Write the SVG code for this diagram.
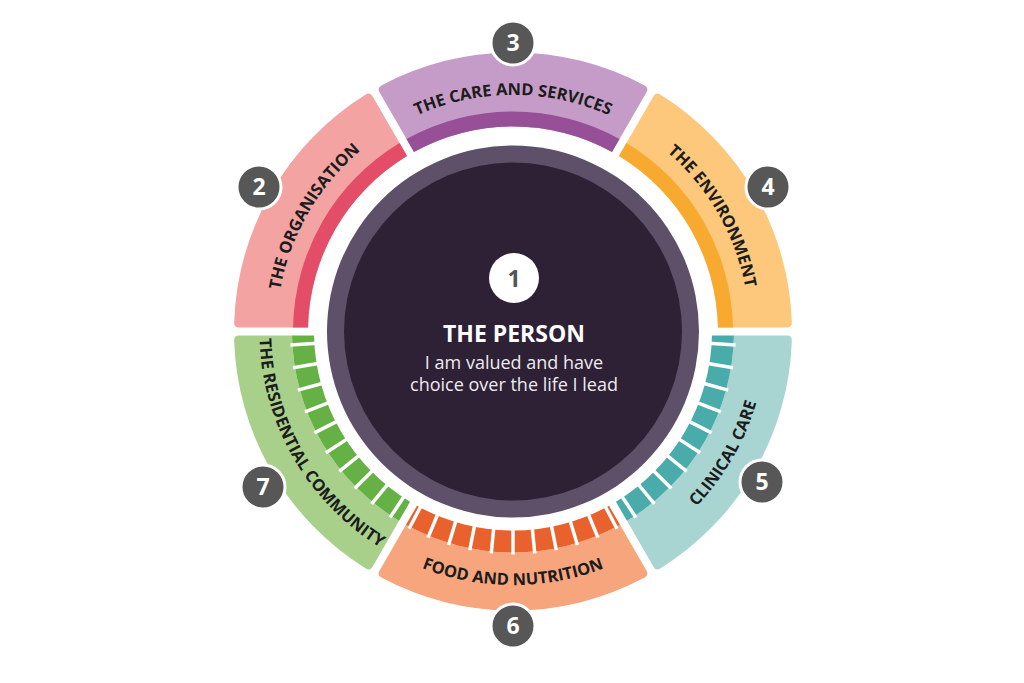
<svg xmlns="http://www.w3.org/2000/svg" width="1024" height="683" viewBox="0 0 1024 683">
<style>
.lbl{font-family:"Open Sans","Liberation Sans",sans-serif;font-weight:700;font-size:16.5px;fill:#1c1c1c}
.num{font-family:"Open Sans","Liberation Sans",sans-serif;font-weight:700;font-size:23px;fill:#ffffff;text-anchor:middle}
.badge{fill:#575757;stroke:#ffffff;stroke-width:3}
.stripe{stroke:#ffffff;stroke-width:3.5}
.ctr{font-family:"Open Sans","Liberation Sans",sans-serif;text-anchor:middle}
</style>
<defs>
<path id="segTop" d="M239.27,-133.52 Q243.60,-136.02 246.00,-131.63 A279,279 0 0 1 246.00,131.63 Q243.60,136.02 239.27,133.52 L179.50,99.02 A205,205 0 0 0 179.50,-99.02 Z"/>
<path id="bandTop" d="M192.49,106.52 L179.50,99.02 A205,205 0 0 0 179.50,-99.02 L192.49,-106.52 A220,220 0 0 1 192.49,106.52 Z"/>
<path id="segBot" d="M239.27,-133.52 Q243.60,-136.02 246.00,-131.63 A279,279 0 0 1 246.00,131.63 Q243.60,136.02 239.27,133.52 L193.36,107.02 A221,221 0 0 0 193.36,-107.02 Z"/>
<path id="bandBot" d="M193.36,107.02 L174.30,96.02 A199,199 0 0 0 174.30,-96.02 L193.36,-107.02 A221,221 0 0 1 193.36,107.02 Z"/>
<g id="stripesSide" class="stripe">
<line x1="196" y1="0" x2="223" y2="0" transform="rotate(2.95)"/>
<line x1="196" y1="0" x2="223" y2="0" transform="rotate(-2.95)"/>
<line x1="196" y1="0" x2="223" y2="0" transform="rotate(8.85)"/>
<line x1="196" y1="0" x2="223" y2="0" transform="rotate(-8.85)"/>
<line x1="196" y1="0" x2="223" y2="0" transform="rotate(14.75)"/>
<line x1="196" y1="0" x2="223" y2="0" transform="rotate(-14.75)"/>
<line x1="196" y1="0" x2="223" y2="0" transform="rotate(20.65)"/>
<line x1="196" y1="0" x2="223" y2="0" transform="rotate(-20.65)"/>
<line x1="196" y1="0" x2="223" y2="0" transform="rotate(26.55)"/>
<line x1="196" y1="0" x2="223" y2="0" transform="rotate(-26.55)"/>
</g>
<g id="stripesFood" class="stripe">
<line x1="196" y1="0" x2="223" y2="0"/>
<line x1="196" y1="0" x2="223" y2="0" transform="rotate(5.6)"/>
<line x1="196" y1="0" x2="223" y2="0" transform="rotate(-5.6)"/>
<line x1="196" y1="0" x2="223" y2="0" transform="rotate(11.2)"/>
<line x1="196" y1="0" x2="223" y2="0" transform="rotate(-11.2)"/>
<line x1="196" y1="0" x2="223" y2="0" transform="rotate(16.8)"/>
<line x1="196" y1="0" x2="223" y2="0" transform="rotate(-16.8)"/>
<line x1="196" y1="0" x2="223" y2="0" transform="rotate(22.4)"/>
<line x1="196" y1="0" x2="223" y2="0" transform="rotate(-22.4)"/>
<line x1="196" y1="0" x2="223" y2="0" transform="rotate(27.8)"/>
<line x1="196" y1="0" x2="223" y2="0" transform="rotate(-27.8)"/>
</g>
<path id="arcTop" d="M-235.60,-20.61 A236.5,236.5 0 0 1 235.60,-20.61"/>
<path id="arcBot" d="M-252.54,22.10 A253.5,253.5 0 0 0 252.54,22.10"/>
</defs>
<rect width="1024" height="683" fill="#ffffff"/>

<g id="connectors"></g>

<g id="node-1-person">
<circle cx="513" cy="331.5" r="186" fill="#5E5068"/>
<circle cx="513" cy="331.5" r="169" fill="#2E2035"/>
<circle cx="514" cy="278" r="25" fill="#ffffff"/>
<text class="ctr" x="514" y="286.5" font-size="23" font-weight="700" fill="#555555">1</text>
<text class="ctr" x="514" y="341.5" font-size="23" font-weight="700" fill="#ffffff">THE PERSON</text>
<text class="ctr" x="514" y="368.5" font-size="18" fill="#EEEAF0">I am valued and have</text>
<text class="ctr" x="514" y="390.5" font-size="18" fill="#EEEAF0">choice over the life I lead</text>
</g>

<g id="node-2-organisation">
<use href="#segTop" transform="translate(513 331.5) rotate(210)" fill="#F3A3A2"/>
<use href="#bandTop" transform="translate(513 331.5) rotate(210)" fill="#E44D67"/>
<text class="lbl" transform="translate(513 331.5) rotate(-60)"><textPath href="#arcTop" startOffset="50%" text-anchor="middle">THE ORGANISATION</textPath></text>
<circle class="badge" cx="259" cy="187" r="22"/>
<text class="num" x="259" y="195.2">2</text>
</g>

<g id="node-3-care">
<use href="#segTop" transform="translate(513 331.5) rotate(270)" fill="#C49CC7"/>
<use href="#bandTop" transform="translate(513 331.5) rotate(270)" fill="#974F98"/>
<text class="lbl" transform="translate(513 331.5)"><textPath href="#arcTop" startOffset="50%" text-anchor="middle">THE CARE AND SERVICES</textPath></text>
<circle class="badge" cx="513" cy="43" r="22"/>
<text class="num" x="513" y="51.2">3</text>
</g>

<g id="node-4-environment">
<use href="#segTop" transform="translate(513 331.5) rotate(330)" fill="#FDC87B"/>
<use href="#bandTop" transform="translate(513 331.5) rotate(330)" fill="#F7AA2F"/>
<text class="lbl" transform="translate(513 331.5) rotate(60)"><textPath href="#arcTop" startOffset="50%" text-anchor="middle">THE ENVIRONMENT</textPath></text>
<circle class="badge" cx="768" cy="187" r="22"/>
<text class="num" x="768" y="195.2">4</text>
</g>

<g id="node-5-clinical">
<use href="#segBot" transform="translate(513 331.5) rotate(30)" fill="#A8D5D2"/>
<use href="#bandBot" transform="translate(513 331.5) rotate(30)" fill="#4AABAB"/>
<use href="#stripesSide" transform="translate(513 331.5) rotate(30)"/>
<text class="lbl" transform="translate(513 331.5) rotate(-60)"><textPath href="#arcBot" startOffset="50%" text-anchor="middle">CLINICAL CARE</textPath></text>
<circle class="badge" cx="762" cy="482" r="22"/>
<text class="num" x="762" y="490.2">5</text>
</g>

<g id="node-6-food">
<use href="#segBot" transform="translate(513 331.5) rotate(90)" fill="#F6A57C"/>
<use href="#bandBot" transform="translate(513 331.5) rotate(90)" fill="#E9612D"/>
<use href="#stripesFood" transform="translate(513 331.5) rotate(90)"/>
<text class="lbl" transform="translate(513 331.5)"><textPath href="#arcBot" startOffset="50%" text-anchor="middle">FOOD AND NUTRITION</textPath></text>
<circle class="badge" cx="513" cy="626" r="22"/>
<text class="num" x="513" y="634.2">6</text>
</g>

<g id="node-7-community">
<use href="#segBot" transform="translate(513 331.5) rotate(150)" fill="#A8D08B"/>
<use href="#bandBot" transform="translate(513 331.5) rotate(150)" fill="#65B145"/>
<use href="#stripesSide" transform="translate(513 331.5) rotate(150)"/>
<text class="lbl" transform="translate(513 331.5) rotate(60)"><textPath href="#arcBot" startOffset="50%" text-anchor="middle">THE RESIDENTIAL COMMUNITY</textPath></text>
<circle class="badge" cx="263" cy="487" r="22"/>
<text class="num" x="263" y="495.2">7</text>
</g>
</svg>
